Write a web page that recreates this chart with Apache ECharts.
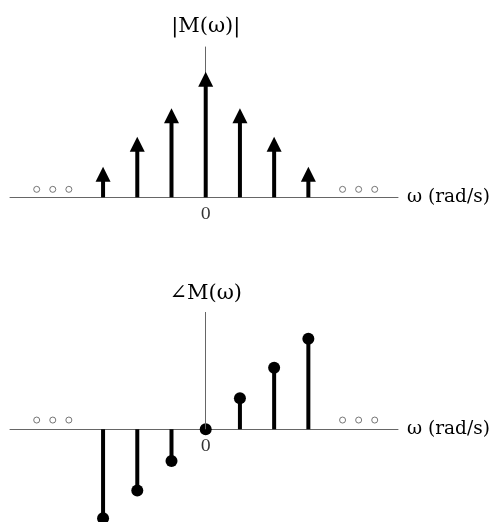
<!DOCTYPE html>
<html>
<head>
<meta charset="utf-8">
<script src="https://cdn.jsdelivr.net/npm/echarts@6/dist/echarts.min.js"></script>
<style>
html,body{margin:0;padding:0;background:#fff;}
#chart{width:498px;height:522px;}
</style>
</head>
<body>
<div id="chart"></div>
<script>
// ---- data ----
const omega = [-3, -2, -1, 0, 1, 2, 3];
const magnitude = [1.0, 1.98, 2.91, 4.1, 2.91, 1.98, 1.0];
const phase = [-2.91, -2.0, -1.04, 0, 1.01, 2.01, 2.96];
const ellipsisX = [-4.94, -4.47, -4.0, 4.0, 4.47, 4.94];
const ellipsisYTop = 0.26;
const ellipsisYBottom = 0.3;
const zeroTick = [0];
const zeroLabel = '0';
const magTitle = '|M(\u03c9)|';
const phaseTitle = '\u2220M(\u03c9)';
const xName = '\u03c9 (rad/s)';

const FONT = '"DejaVu Serif", "Liberation Serif", serif';
const AXIS_COLOR = '#666';

const magPairs = omega.map((w, i) => [w, magnitude[i]]);
const phasePairs = omega.map((w, i) => [w, phase[i]]);
const dotsTop = ellipsisX.map(x => [x, ellipsisYTop]);
const dotsBottom = ellipsisX.map(x => [x, ellipsisYBottom]);
const zeroPoints = zeroTick.map(v => [v, 0]);

const X_MIN = -5.72, X_MAX = 5.62;
const TOP_YMAX = 4.91;
const BOT_YMAX = 3.83, BOT_YMIN = -3.03;

function xAxisCfg(gridIndex) {
  return {
    type: 'value', gridIndex: gridIndex, min: X_MIN, max: X_MAX,
    axisLine: { show: true, onZero: true, lineStyle: { color: AXIS_COLOR, width: 1 } },
    axisTick: { show: false },
    splitLine: { show: false },
    axisLabel: { show: false },
    name: xName, nameLocation: 'end', nameGap: 9,
    nameTextStyle: { fontFamily: FONT, fontSize: 18.5, color: '#000', verticalAlign: 'middle', align: 'left' }
  };
}

const arrowRender = function (params, api) {
  const x = api.value(0), y = api.value(1);
  const base = api.coord([x, 0]);
  const tip = api.coord([x, y]);
  const headH = 15, headW = 15;
  return {
    type: 'group',
    children: [
      { type: 'line', shape: { x1: base[0], y1: base[1], x2: tip[0], y2: tip[1] + headH - 1 },
        style: { stroke: '#000', lineWidth: 4 } },
      { type: 'polygon', shape: { points: [[tip[0], tip[1]], [tip[0] - headW / 2, tip[1] + headH], [tip[0] + headW / 2, tip[1] + headH]] },
        style: { fill: '#000' } }
    ]
  };
};

const lollipopRender = function (params, api) {
  const x = api.value(0), y = api.value(1);
  const base = api.coord([x, 0]);
  const tip = api.coord([x, y]);
  return {
    type: 'group',
    children: [
      { type: 'line', shape: { x1: base[0], y1: base[1], x2: tip[0], y2: tip[1] },
        style: { stroke: '#000', lineWidth: 4 } },
      { type: 'circle', shape: { cx: tip[0], cy: tip[1], r: 6 }, style: { fill: '#000' } }
    ]
  };
};

const dotStyle = { color: '#fff', borderColor: '#555', borderWidth: 1 };

function zeroLabelSeries(xi, yi, dist) {
  return {
    type: 'scatter', xAxisIndex: xi, yAxisIndex: yi, data: zeroPoints, symbolSize: 1,
    itemStyle: { color: 'rgba(0,0,0,0)' }, silent: true, z: 5,
    label: { show: true, position: 'bottom', distance: dist, formatter: zeroLabel,
      fontFamily: FONT, fontSize: 16.5, color: '#000' }
  };
}

const chart = echarts.init(document.getElementById('chart'), null, { renderer: 'canvas' });
chart.setOption({
  animation: false,
  backgroundColor: '#fff',
  grid: [
    { left: 10, right: 100, top: 47, height: 150.3, outerBoundsMode: 'none', containLabel: false },
    { left: 10, right: 100, top: 312, bottom: 0, outerBoundsMode: 'none', containLabel: false }
  ],
  xAxis: [xAxisCfg(0), xAxisCfg(1)],
  yAxis: [
    {
      type: 'value', gridIndex: 0, min: 0, max: TOP_YMAX,
      axisLine: { show: true, onZero: true, lineStyle: { color: AXIS_COLOR, width: 1 } },
      axisTick: { show: false }, splitLine: { show: false }, axisLabel: { show: false },
      name: magTitle, nameLocation: 'end', nameGap: 20,
      nameTextStyle: { fontFamily: FONT, fontSize: 21, color: '#000', verticalAlign: 'middle', align: 'center' }
    },
    {
      type: 'value', gridIndex: 1, min: BOT_YMIN, max: BOT_YMAX,
      axisLine: { show: false, onZero: true },
      axisTick: { show: false }, splitLine: { show: false }, axisLabel: { show: false },
      name: phaseTitle, nameLocation: 'end', nameGap: 18,
      nameTextStyle: { fontFamily: FONT, fontSize: 21, color: '#000', verticalAlign: 'middle', align: 'center' }
    }
  ],
  series: [
    { type: 'custom', xAxisIndex: 0, yAxisIndex: 0, data: magPairs, renderItem: arrowRender, silent: true, clip: false },
    { type: 'scatter', xAxisIndex: 0, yAxisIndex: 0, data: dotsTop, symbol: 'circle', symbolSize: 6, itemStyle: dotStyle, silent: true },
    zeroLabelSeries(0, 0, 8),
    {
      type: 'scatter', xAxisIndex: 1, yAxisIndex: 1, data: dotsBottom, symbol: 'circle', symbolSize: 6, itemStyle: dotStyle, silent: true,
      markLine: {
        silent: true, symbol: 'none', label: { show: false },
        lineStyle: { color: AXIS_COLOR, width: 1, type: 'solid' },
        data: [[{ coord: [0, 0] }, { coord: [0, BOT_YMAX] }]]
      }
    },
    { type: 'custom', xAxisIndex: 1, yAxisIndex: 1, data: phasePairs, renderItem: lollipopRender, silent: true, clip: false },
    zeroLabelSeries(1, 1, 8)
  ]
});
</script>
</body>
</html>
